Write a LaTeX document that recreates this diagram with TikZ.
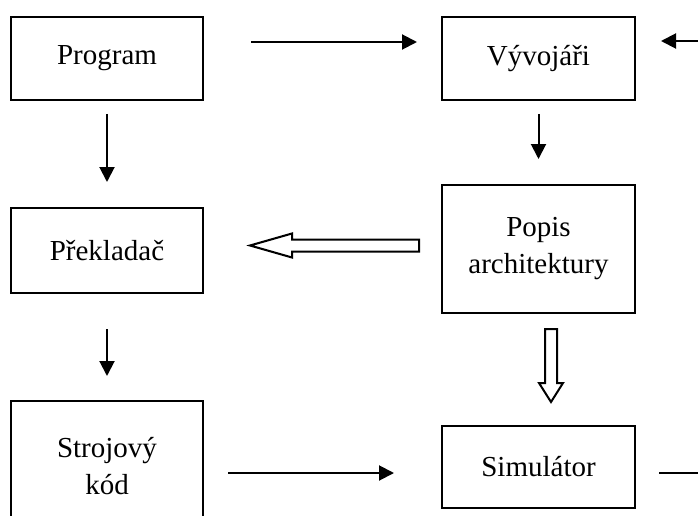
\documentclass[tikz,border=0pt]{standalone}
\usepackage{fontspec}
\setmainfont{Liberation Serif}
\usetikzlibrary{arrows.meta,calc}
\begin{document}
\begin{tikzpicture}[x=1pt,y=-1pt,
  box/.style={draw,line width=2pt,inner sep=0pt,align=center,
    font=\fontsize{29}{37}\selectfont},
  arr/.style={line width=2pt,-{Triangle[length=15pt,width=15pt]}},
  plain/.style={line width=2pt},
  hollow/.style={draw,line width=2pt,line join=miter,fill=white}]
\useasboundingbox (0,0) rectangle (698,516);
\node[box,minimum width=192pt,minimum height=83pt] (prog) at (107,58.5) {Program};
\node[box,minimum width=192pt,minimum height=85pt] (prek) at (107,250.5) {Překladač};
\node[box,minimum width=192pt,minimum height=130pt] (stroj) at (107,466) {Strojový\\kód};
\node[box,minimum width=193pt,minimum height=83pt] (vyv) at (538.5,58.5) {Vývojáři};
\node[box,minimum width=193pt,minimum height=128pt] (popis) at (538.5,249) {Popis\\architektury};
\node[box,minimum width=193pt,minimum height=82pt] (sim) at (538.5,467) {Simulátor};
\coordinate (inR) at (712,41);
\coordinate (outR) at (712,473);
% thin arrows
\draw[arr,shorten <=47pt,shorten >=24pt] ([yshift=16.5pt]prog.east) -- ([yshift=16.5pt]vyv.west);
\draw[arr,shorten >=25pt] (inR) -- (inR -| vyv.east);
\draw[plain,shorten <=23pt] (sim.east |- outR) -- (outR);
\draw[arr,shorten <=13pt,shorten >=25pt] (prog.south) -- (prek.north);
\draw[arr,shorten <=35pt,shorten >=24pt] (prek.south) -- (stroj.north);
\draw[arr,shorten <=13pt,shorten >=25pt] (vyv.south) -- (popis.north);
\draw[arr,shorten <=24pt,shorten >=47pt] (stroj.east |- sim.east) ++(0,6) -- ($(sim.west)+(0,6)$);
% hollow arrows
\coordinate (h1) at ($(popis.west)+(-22,-3.5)$);
\draw[hollow] (h1) ++(0,-6) -- ++(-127,0) -- ++(0,-6) -- ++(-42,12) -- ++(42,12) -- ++(0,-6) -- ++(127,0) -- cycle;
\coordinate (h2) at ($(popis.south)+(12.5,15)$);
\draw[hollow] (h2) ++(-6,0) -- ++(0,54) -- ++(-6,0) -- ++(12,19) -- ++(12,-19) -- ++(-6,0) -- ++(0,-54) -- cycle;
\end{tikzpicture}
\end{document}
